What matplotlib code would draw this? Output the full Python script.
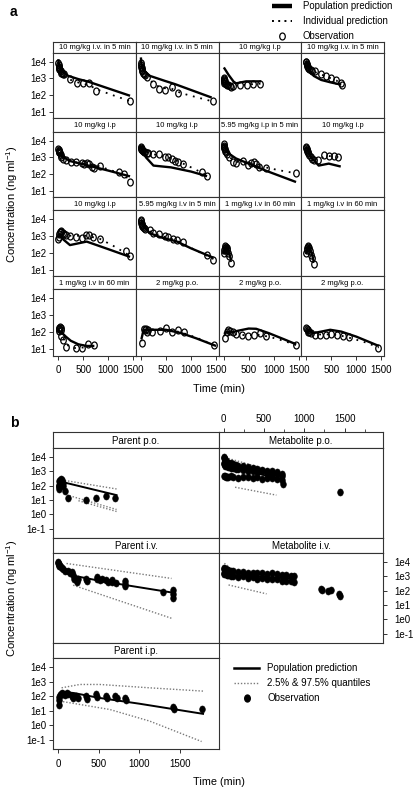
import matplotlib
matplotlib.use('Agg')
import matplotlib.pyplot as plt
from matplotlib.lines import Line2D
from matplotlib.path import Path
from matplotlib.transforms import Affine2D
from matplotlib.ticker import FixedLocator, FuncFormatter, LogLocator, NullFormatter

plt.rcParams['font.family'] = ['Liberation Sans', 'DejaVu Sans']
plt.rcParams['mathtext.fontset'] = 'custom'
plt.rcParams['mathtext.rm'] = 'Liberation Sans'
plt.rcParams['mathtext.it'] = 'Liberation Sans:italic'
plt.rcParams['mathtext.bf'] = 'Liberation Sans:bold'

# ---------------- Panel a data ----------------
A_TITLES = ["10 mg/kg i.v. in 5 min", "10 mg/kg i.v. in 5 min", "10 mg/kg i.p", "10 mg/kg i.v. in 5 min",
            "10 mg/kg i.p", "10 mg/kg i.p", "5.95 mg/kg i.p in 5 min", "10 mg/kg i.p",
            "10 mg/kg i.p", "5.95 mg/kg i.v in 5 min", "1 mg/kg i.v in 60 min", "1 mg/kg i.v in 60 min",
            "1 mg/kg i.v in 60 min", "2 mg/kg p.o.", "2 mg/kg p.o.", "2 mg/kg p.o."]

A_OBS_T = [
    [3, 5, 10, 15, 20, 30, 45, 60, 75, 90, 110, 234, 365, 490, 620, 760, 1433],
    [3, 5, 10, 15, 20, 30, 45, 60, 80, 120, 233, 367, 480, 627, 733, 1447],
    [5, 8, 10, 12, 15, 20, 30, 45, 60, 90, 120, 150, 192, 326, 460, 580, 726],
    [3, 5, 10, 15, 20, 30, 45, 60, 90, 120, 170, 290, 400, 500, 600, 690, 720],
    [3, 5, 10, 15, 20, 30, 45, 60, 90, 150, 247, 353, 467, 520, 567, 620, 667, 720, 833, 1220, 1313, 1433],
    [3, 5, 10, 15, 20, 30, 45, 60, 90, 120, 150, 247, 367, 480, 547, 613, 680, 747, 833, 1213, 1327],
    [3, 5, 10, 15, 20, 30, 45, 60, 113, 180, 247, 380, 493, 547, 613, 647, 713, 847, 1447],
    [3, 5, 10, 15, 20, 30, 45, 60, 90, 120, 150, 240, 353, 453, 553, 640],
    [3, 10, 20, 30, 45, 60, 90, 120, 150, 233, 353, 467, 553, 620, 700, 833, 1353, 1433],
    [3, 5, 10, 15, 20, 30, 45, 60, 80, 180, 247, 367, 480, 547, 647, 713, 833, 1313, 1447],
    [5, 10, 20, 30, 45, 60, 70, 90, 110, 150],
    [5, 10, 20, 30, 45, 60, 80, 100, 120, 150],
    [5, 10, 20, 30, 45, 60, 53, 100, 147, 353, 467, 600, 720],
    [25, 60, 80, 100, 120, 140, 227, 380, 493, 613, 740, 860, 1460],
    [30, 60, 90, 120, 180, 244, 363, 497, 617, 730, 850, 1450],
    [5, 15, 30, 45, 60, 90, 166, 266, 386, 500, 613, 733, 853, 1433],
]
A_OBS_C = [
    [8000, 6500, 5000, 4200, 3600, 3000, 2600, 2200, 2000, 1800, 1700, 920, 540, 560, 540, 170, 45],
    [8000, 6500, 5000, 4000, 3200, 2700, 2000, 1700, 1500, 1200, 460, 230, 210, 320, 125, 41],
    [500, 1000, 700, 900, 800, 650, 550, 450, 420, 400, 350, 320, 355, 417, 417, 447, 480],
    [10000, 9000, 7500, 6500, 5500, 4800, 4200, 3800, 3200, 2600, 2800, 1900, 1300, 1000, 750, 500, 420],
    [3000, 2800, 2500, 2200, 2000, 1700, 1400, 1100, 800, 650, 500, 500, 440, 380, 440, 380, 280, 220, 310, 125, 100, 34],
    [4000, 3500, 3200, 3000, 2800, 2600, 2400, 2200, 2000, 1800, 1700, 1500, 1500, 1070, 980, 850, 630, 500, 380, 130, 73],
    [6000, 5000, 4000, 3500, 3000, 2500, 2000, 1500, 1070, 550, 430, 630, 350, 430, 500, 380, 280, 220, 115],
    [4000, 3500, 3000, 2600, 2300, 2000, 1700, 1400, 1000, 800, 700, 680, 1350, 1230, 1170, 1070],
    [600, 800, 1200, 1600, 1800, 1700, 1500, 1300, 1100, 970, 850, 720, 1070, 1120, 850, 630, 130, 65],
    [9000, 7500, 6000, 5000, 4200, 3800, 3300, 2800, 2400, 2100, 1550, 1230, 970, 850, 630, 570, 450, 74, 36],
    [100, 150, 200, 250, 230, 200, 150, 100, 60, 25],
    [100, 150, 200, 250, 220, 180, 120, 70, 50, 22],
    [120, 150, 180, 200, 180, 140, 63, 34, 13.5, 11.5, 12.6, 21, 18],
    [25, 160, 130, 150, 100, 130, 110, 125, 180, 110, 140, 105, 19],
    [48, 110, 140, 120, 100, 76, 69, 60, 69, 95, 60, 18],
    [180, 150, 130, 110, 100, 90, 70, 69, 74, 79, 74, 59, 50, 13],
]
A_POP_T = [
    [0, 5, 30, 100, 200, 400, 600, 1433],
    [0, 5, 30, 100, 180, 480, 680, 1413],
    [5, 100, 200, 250, 450, 750],
    [0, 50, 150, 300, 500, 700],
    [5, 50, 233, 600, 1000, 1433],
    [5, 100, 250, 600, 1000, 1320],
    [5, 100, 250, 500, 840, 1447],
    [5, 100, 250, 450, 690],
    [5, 40, 100, 233, 567, 1000, 1433],
    [5, 60, 180, 400, 713, 1000, 1447],
    [0, 30, 60, 90, 120, 150],
    [0, 30, 60, 90, 120, 150],
    [5, 60, 150, 250, 400, 567, 720],
    [10, 50, 100, 200, 500, 800, 1100, 1500],
    [10, 60, 150, 300, 500, 650, 900, 1200, 1450],
    [5, 60, 150, 300, 480, 700, 1000, 1250, 1450],
]
A_POP_C = [
    [14000, 9000, 5000, 2300, 1400, 900, 630, 90],
    [18000, 9000, 4500, 2200, 1400, 700, 450, 70],
    [4500, 1600, 630, 500, 660, 660],
    [12000, 3500, 1400, 800, 560, 420],
    [2000, 1300, 600, 320, 160, 72],
    [3500, 1000, 320, 250, 140, 74],
    [6000, 1700, 850, 420, 160, 33],
    [4000, 1000, 320, 420, 280],
    [800, 1100, 600, 280, 450, 160, 56],
    [9000, 3500, 1400, 800, 460, 180, 50],
    [80, 200, 250, 130, 70, 35],
    [80, 200, 240, 120, 70, 30],
    [110, 100, 56, 32, 20, 16, 16],
    [40, 125, 140, 140, 140, 90, 45, 16],
    [80, 110, 100, 125, 165, 160, 90, 40, 20],
    [100, 125, 90, 110, 140, 110, 56, 28, 16],
]
A_IND_T = [
    [0, 20, 60, 120, 250, 400, 600, 800, 1100, 1433],
    [0, 20, 60, 120, 250, 400, 600, 800, 1100, 1447],
    [5, 20, 60, 150, 250, 450, 750],
    [0, 30, 100, 200, 400, 600, 720],
    [5, 30, 100, 250, 500, 800, 1100, 1433],
    [5, 100, 300, 600, 900, 1100, 1320],
    [5, 100, 250, 500, 840, 1100, 1447],
    [5, 60, 150, 250, 350, 450, 640],
    [5, 40, 100, 233, 567, 833, 1100, 1433],
    [5, 60, 180, 400, 713, 1000, 1447],
    [0, 30, 60, 90, 120, 150],
    [0, 30, 60, 90, 120, 150],
    [5, 60, 100, 150, 300, 500, 720],
    [10, 50, 100, 200, 500, 800, 1100, 1460],
    [10, 60, 150, 300, 500, 700, 900, 1200, 1450],
    [5, 60, 150, 300, 500, 700, 900, 1200, 1450],
]
A_IND_C = [
    [10000, 5000, 2500, 1400, 800, 560, 400, 200, 95, 43],
    [10000, 4000, 2000, 1200, 500, 260, 250, 130, 75, 40],
    [900, 800, 500, 350, 370, 420, 480],
    [11000, 5000, 3000, 2200, 1300, 750, 420],
    [3000, 1800, 900, 550, 430, 300, 150, 50],
    [4000, 2200, 1400, 900, 350, 180, 80],
    [6000, 1100, 550, 420, 250, 170, 110],
    [4000, 1500, 800, 700, 1100, 1200, 1050],
    [800, 1600, 1400, 1000, 1000, 650, 250, 65],
    [9000, 3200, 1800, 1000, 520, 190, 42],
    [100, 220, 240, 120, 65, 28],
    [100, 220, 230, 110, 55, 24],
    [120, 180, 50, 20, 12, 13, 18],
    [30, 140, 140, 130, 150, 100, 50, 18],
    [60, 125, 90, 70, 68, 70, 56, 32, 18],
    [180, 110, 80, 74, 76, 63, 45, 25, 13],
]
A_XTICKS = [0, 500, 1000, 1500]
A_YTICKS = [10, 100, 1000, 10000]

# ---------------- Panel b data ----------------
B_TITLES = ["Parent p.o.", "Metabolite p.o.", "Parent i.v.", "Metabolite i.v.", "Parent i.p."]
B_OBS_T = [
    [5, 10, 10, 15, 15, 20, 30, 30, 45, 60, 60, 90, 120, 342, 465, 588, 699],
    [5, 10, 15, 20, 30, 45, 60, 90, 120, 150, 180, 240, 300, 360, 420, 480, 540, 600, 660, 720,
     5, 10, 15, 20, 30, 45, 60, 90, 120, 150, 180, 240, 300, 360, 420, 480, 540, 600, 660, 720,
     5, 15, 30, 45, 60, 90, 120, 180, 240, 300, 360, 420, 480, 540, 600, 660, 720, 740, 1438],
    [0, 3, 5, 10, 15, 20, 30, 45, 60, 90, 120, 150, 165, 180, 190, 227, 240, 342, 350, 473, 480,
     514, 540, 596, 610, 658, 670, 711, 822, 822, 830, 1294, 1418, 1418, 1420],
    [5, 10, 15, 30, 45, 60, 90, 120, 180, 240, 300, 360, 420, 480, 540, 600, 660, 720, 780, 840, 870,
     5, 10, 15, 30, 45, 60, 90, 120, 180, 240, 300, 360, 420, 480, 540, 600, 660, 720, 780, 840, 870,
     1212, 1225, 1300, 1335, 1430, 1445],
    [5, 10, 15, 20, 30, 42, 60, 80, 103, 120, 165, 180, 218, 240, 342, 360, 465, 480, 588, 600,
     699, 720, 822, 840, 1418, 1430, 1775],
]
B_OBS_C = [
    [80, 120, 60, 200, 100, 250, 300, 150, 230, 160, 100, 45, 15, 10.5, 13, 20, 15],
    [9500, 8000, 7000, 6000, 5200, 4500, 4000, 3500, 3200, 2800, 2500, 2200, 2000, 1700, 1500, 1300, 1100, 1000, 900, 700,
     3000, 3500, 2800, 2500, 2600, 2200, 2000, 1800, 1600, 1500, 1400, 1200, 1100, 1000, 900, 1000, 800, 700, 600, 500,
     450, 500, 420, 400, 380, 450, 400, 350, 420, 380, 330, 420, 300, 350, 320, 280, 250, 130, 34],
    [10000, 9000, 7500, 6500, 5500, 4800, 4200, 3500, 3000, 2500, 2200, 1800, 2100, 1200, 700, 420, 650, 700, 500, 900, 650,
     540, 700, 560, 430, 420, 560, 330, 450, 300, 200, 85, 110, 55, 30],
    [3500, 3200, 3000, 3200, 2800, 2600, 2500, 2300, 2100, 2000, 1800, 1700, 1800, 1600, 1500, 1600, 1400, 1300, 1200, 1100, 1000,
     1500, 1800, 1600, 1400, 1300, 1200, 1100, 1000, 900, 1000, 800, 900, 700, 800, 700, 600, 650, 500, 500, 450, 400,
     140, 110, 90, 120, 60, 40],
    [26, 50, 80, 120, 150, 170, 150, 120, 170, 130, 100, 70, 100, 70, 100, 60, 130, 80, 100, 70,
     100, 70, 75, 50, 18, 13, 13],
]
B_POP_T = [[10, 60, 720], [0, 700], [0, 100, 227, 500, 822, 1418], [0, 850], [0, 50, 200, 500, 1000, 1787]]
B_POP_C = [[250, 175, 22], [2500, 300], [8000, 2500, 1000, 500, 250, 72], [1300, 700], [80, 200, 160, 76, 30, 6]]
B_Q_T = [
    [[82, 720], [140, 720], [250, 720]],
    [[62, 655], [143, 655]],
    [[103, 1398], [185, 1398]],
    [[10, 60], [62, 533]],
    [[42, 267, 514, 1129, 1787], [21, 636, 1129, 1769]],
]
B_Q_C = [
    [[230, 59], [20, 2.2], [9, 1.6]],
    [[7800, 870], [78, 22]],
    [[7800, 710], [240, 1.2]],
    [[8000, 5000], [250, 60]],
    [[370, 630, 630, 370, 220], [45, 12, 1.9, 0.075]],
]
B_XTICKS = [0, 500, 1000, 1500]
B_YTICKS = [0.1, 1, 10, 100, 1000, 10000]

# ---------------- Layout ----------------
W, H = 418, 790
fig = plt.figure(figsize=(W / 100, H / 100), dpi=100)
EDGE = '#333333'

# slightly tall ellipse markers, as in the reference
ELL = Path.unit_circle().transformed(Affine2D().scale(1.0, 1.25))


def rect(x0, y0, x1, y1):
    return [x0 / W, 1 - y1 / H, (x1 - x0) / W, (y1 - y0) / H]


def efmt(v, pos):
    import math
    e = int(round(math.log10(v)))
    return "1e%d" % e


def xfmt_nozero(v, pos):
    return '' if v == 0 else '%d' % v


def style_spines(ax, color=EDGE, lw=0.8):
    for s in ax.spines.values():
        s.set_color(color)
        s.set_linewidth(lw)


def make_strip(x0, y0, x1, y1, title, fs):
    s = fig.add_axes(rect(x0, y0, x1, y1))
    s.set_xticks([])
    s.set_yticks([])
    style_spines(s)
    s.text(0.5, 0.45, title, transform=s.transAxes, ha='center', va='center', fontsize=fs)
    return s


# Panel a
a_cols = [53.3, 135.9, 218.6, 301.2, 383.8]
a_rows = [(41.5, 53, 118), (118, 132, 197), (197, 210, 276), (276, 289, 356)]
for i in range(16):
    r, c = divmod(i, 4)
    st, pt, pb = a_rows[r]
    x0, x1 = a_cols[c], a_cols[c + 1]
    make_strip(x0, st, x1, pt, A_TITLES[i], 5.5)
    ax = fig.add_axes(rect(x0, pt, x1, pb))
    ax.set_yscale('log')
    ax.set_xlim(-100, 1550)
    ax.set_ylim(10 ** 0.62, 10 ** 4.52)
    style_spines(ax)
    ax.plot(A_POP_T[i], A_POP_C[i], color='black', lw=1.7, solid_capstyle='butt', zorder=3)
    ax.plot(A_IND_T[i], A_IND_C[i], color='black', lw=1.3, ls=(0, (1, 3.2)), zorder=3)
    ax.plot(A_OBS_T[i], A_OBS_C[i], ls='none', marker=ELL, ms=5.0, mfc='none', mec='black', mew=0.9, zorder=4)
    ax.yaxis.set_major_locator(FixedLocator(A_YTICKS))
    ax.yaxis.set_major_formatter(FuncFormatter(efmt))
    ax.yaxis.set_minor_locator(LogLocator(base=10, subs=range(2, 10)))
    ax.yaxis.set_minor_formatter(NullFormatter())
    ax.xaxis.set_major_locator(FixedLocator(A_XTICKS))
    if c != 0:
        ax.xaxis.set_major_formatter(FuncFormatter(xfmt_nozero))
    ax.tick_params(which='major', direction='out', length=3, width=0.7, color=EDGE, labelsize=7)
    ax.tick_params(which='minor', direction='out', length=1.4, width=0.4, color='#999999')
    ax.tick_params(axis='y', pad=2.2)
    ax.tick_params(axis='x', pad=3.5)
    if c != 0:
        ax.tick_params(axis='y', which='both', left=False, labelleft=False)
    if r != 3:
        ax.tick_params(axis='x', which='both', bottom=False, labelbottom=False)

fig.text(12 / W, 1 - 204 / H, 'Concentration (ng ml$^{-1}$)', rotation=90, ha='center', va='center', fontsize=8)
fig.text(218.6 / W, 1 - 389 / H, 'Time (min)', ha='center', va='center', fontsize=7.8)
fig.text(10 / W, 1 - 12 / H, 'a', ha='left', va='center', fontsize=10, fontweight='bold')

leg_a = [Line2D([], [], color='black', lw=3.2, solid_capstyle='butt'),
         Line2D([], [], color='black', lw=1.4, ls=(0, (1, 2.2))),
         Line2D([], [], ls='none', marker=ELL, ms=5.0, mfc='none', mec='black', mew=0.9)]
fig.legend(leg_a, ['Population prediction', 'Individual prediction', 'Observation'],
           loc='upper left', bbox_to_anchor=(271 / W, 1 - 0.5 / H), frameon=False, fontsize=6.9,
           handlelength=2.1, handletextpad=1.1, labelspacing=0.5, borderpad=0.1, borderaxespad=0)

# Panel b
b_cols = [53.3, 218.7, 383.3]
b_rows = [(432, 448, 538), (538, 553, 643), (643, 658, 749)]
for i in range(5):
    r, c = divmod(i, 2)
    st, pt, pb = b_rows[r]
    x0, x1 = b_cols[c], b_cols[c + 1]
    s = make_strip(x0, st, x1, pt, B_TITLES[i], 7)
    ax = fig.add_axes(rect(x0, pt, x1, pb))
    ax.set_yscale('log')
    ax.set_xlim(-60, 1980)
    ax.set_ylim(10 ** -1.64, 10 ** 4.62)
    style_spines(ax)
    for qt, qc in zip(B_Q_T[i], B_Q_C[i]):
        ax.plot(qt, qc, color='#7a7a7a', lw=1.0, ls=(0, (1, 1.3)), zorder=2)
    ax.plot(B_POP_T[i], B_POP_C[i], color='black', lw=1.4, zorder=3)
    ax.plot(B_OBS_T[i], B_OBS_C[i], ls='none', marker=ELL, ms=5.0, mfc='black', mec='black', mew=0.5, zorder=4)
    ax.yaxis.set_major_locator(FixedLocator(B_YTICKS))
    ax.yaxis.set_major_formatter(FuncFormatter(efmt))
    ax.yaxis.set_minor_locator(LogLocator(base=10, subs=range(2, 10)))
    ax.yaxis.set_minor_formatter(NullFormatter())
    ax.xaxis.set_major_locator(FixedLocator(B_XTICKS))
    ax.tick_params(which='major', direction='out', length=3, width=0.7, color=EDGE, labelsize=7)
    ax.tick_params(which='minor', direction='out', length=1.4, width=0.4, color='#999999')
    ax.tick_params(axis='x', pad=4.5)
    show_left = (c == 0 and r in (0, 2))
    show_right = (c == 1 and r == 1)
    ax.tick_params(axis='y', which='both', left=show_left, labelleft=show_left,
                   right=show_right, labelright=show_right, pad=2.2 if show_left else 5)
    if i != 4:
        ax.tick_params(axis='x', which='both', bottom=False, labelbottom=False)
    if i == 1:
        s.set_xlim(ax.get_xlim())
        s.xaxis.set_major_locator(FixedLocator(B_XTICKS))
        s.xaxis.set_minor_locator(FixedLocator([250, 750, 1250, 1750]))
        s.tick_params(axis='x', which='both', top=True, labeltop=True, bottom=False, labelbottom=False,
                      direction='out', color=EDGE, labelsize=7, pad=2.5)
        s.tick_params(axis='x', which='major', length=3, width=0.7)
        s.tick_params(axis='x', which='minor', length=2.5, width=0.6)

fig.text(12 / W, 1 - 598 / H, 'Concentration (ng ml$^{-1}$)', rotation=90, ha='center', va='center', fontsize=8)
fig.text(218.7 / W, 1 - 782 / H, 'Time (min)', ha='center', va='center', fontsize=7.8)
fig.text(10 / W, 1 - 423 / H, 'b', ha='left', va='center', fontsize=10, fontweight='bold')

leg_b = [Line2D([], [], color='black', lw=1.8),
         Line2D([], [], color='#7a7a7a', lw=1.0, ls=(0, (1, 1.3))),
         Line2D([], [], ls='none', marker=ELL, ms=5.0, mfc='black', mec='black')]
fig.legend(leg_b, ['Population prediction', '2.5% & 97.5% quantiles', 'Observation'],
           loc='upper left', bbox_to_anchor=(233 / W, 1 - 662.5 / H), frameon=False, fontsize=7,
           handlelength=2.6, handletextpad=0.8, labelspacing=0.5, borderpad=0.1, borderaxespad=0)

fig.savefig('out.png', dpi=100)
